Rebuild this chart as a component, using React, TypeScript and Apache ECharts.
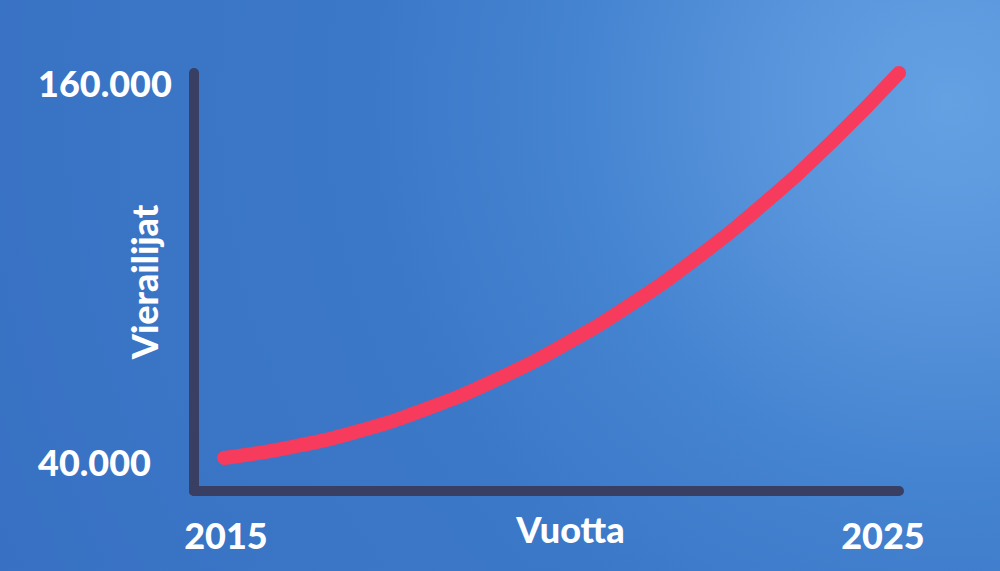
import React, { useEffect, useRef } from 'react';
import * as echarts from 'echarts';

// visitors per year
const years = [2015, 2016, 2017, 2018, 2019, 2020, 2021, 2022, 2023, 2024, 2025];
const visitors = [40000, 43400, 48400, 55300, 64100, 74800, 87500, 102300, 119300, 138500, 160000];
const xTicks = [2015, 2025];
const yTicks = [40000, 160000];

const FONT = 'Lato, "Open Sans", sans-serif';

const fmt = (v: number) => String(v).replace(/\B(?=(\d{3})+(?!\d))/g, '.');

const App: React.FC = () => {
  const chartRef = useRef<HTMLDivElement>(null);

  useEffect(() => {
    document.body.style.margin = '0';
    if (!chartRef.current) return;
    const chart = echarts.init(chartRef.current, undefined, { renderer: 'svg' });

    const axisColor = '#383f63';
    const labelStyle = {
      color: '#ffffff',
      fontFamily: FONT,
      fontWeight: 900 as const,
      fontSize: 36
    };

    chart.setOption({
      animation: false,
      grid: { left: 194, right: 101, top: 73, bottom: 80, containLabel: false, outerBoundsMode: 'none' },
      xAxis: {
        type: 'value',
        min: 2014.556,
        max: 2025,
        name: 'Vuotta',
        nameLocation: 'middle',
        nameGap: 20,
        nameMoveOverlap: false,
        nameTextStyle: { ...labelStyle, padding: [0, 0, 0, 48] },
        axisLine: { show: true, lineStyle: { color: axisColor, width: 10, cap: 'round' } },
        axisTick: { show: false },
        splitLine: { show: false },
        axisLabel: {
          customValues: xTicks,
          margin: 26,
          ...labelStyle,
          formatter: (v: number) => (v === 2025 ? '{b|' + v + '}' : '{a|' + v + '}'),
          rich: {
            a: { ...labelStyle, padding: [0, 0, 0, 4] },
            b: { ...labelStyle, padding: [0, 32, 0, 0] }
          }
        }
      },
      yAxis: {
        type: 'value',
        min: 29700,
        max: 160000,
        name: 'Vierailijat',
        nameLocation: 'middle',
        nameRotate: 90,
        nameGap: 32,
        nameMoveOverlap: false,
        nameTextStyle: labelStyle,
        axisLine: { show: true, lineStyle: { color: axisColor, width: 10, cap: 'round' } },
        axisTick: { show: false },
        splitLine: { show: false },
        axisLabel: {
          customValues: yTicks,
          align: 'left',
          margin: 156,
          ...labelStyle,
          formatter: (v: number) => (v === 160000 ? '{t|' + fmt(v) + '}' : '{l|' + fmt(v) + '}'),
          rich: {
            t: { ...labelStyle, padding: [20, 0, 0, 0] },
            l: { ...labelStyle, padding: [8, 0, 0, 0] }
          }
        }
      },
      series: [
        {
          type: 'line',
          data: years.map((y, i) => [y, visitors[i]]),
          smooth: true,
          clip: false,
          showSymbol: false,
          lineStyle: { color: '#f73b5d', width: 14, cap: 'round' }
        }
      ]
    });

    return () => chart.dispose();
  }, []);

  return (
    <div
      ref={chartRef}
      style={{
        width: 1000,
        height: 571,
        background:
          'radial-gradient(circle at 95% 18%, #63a1e3 0%, #5a96dc 15%, #4584d1 35%, #3c78c8 55%, #3871c3 100%)'
      }}
    />
  );
};

export default App;
